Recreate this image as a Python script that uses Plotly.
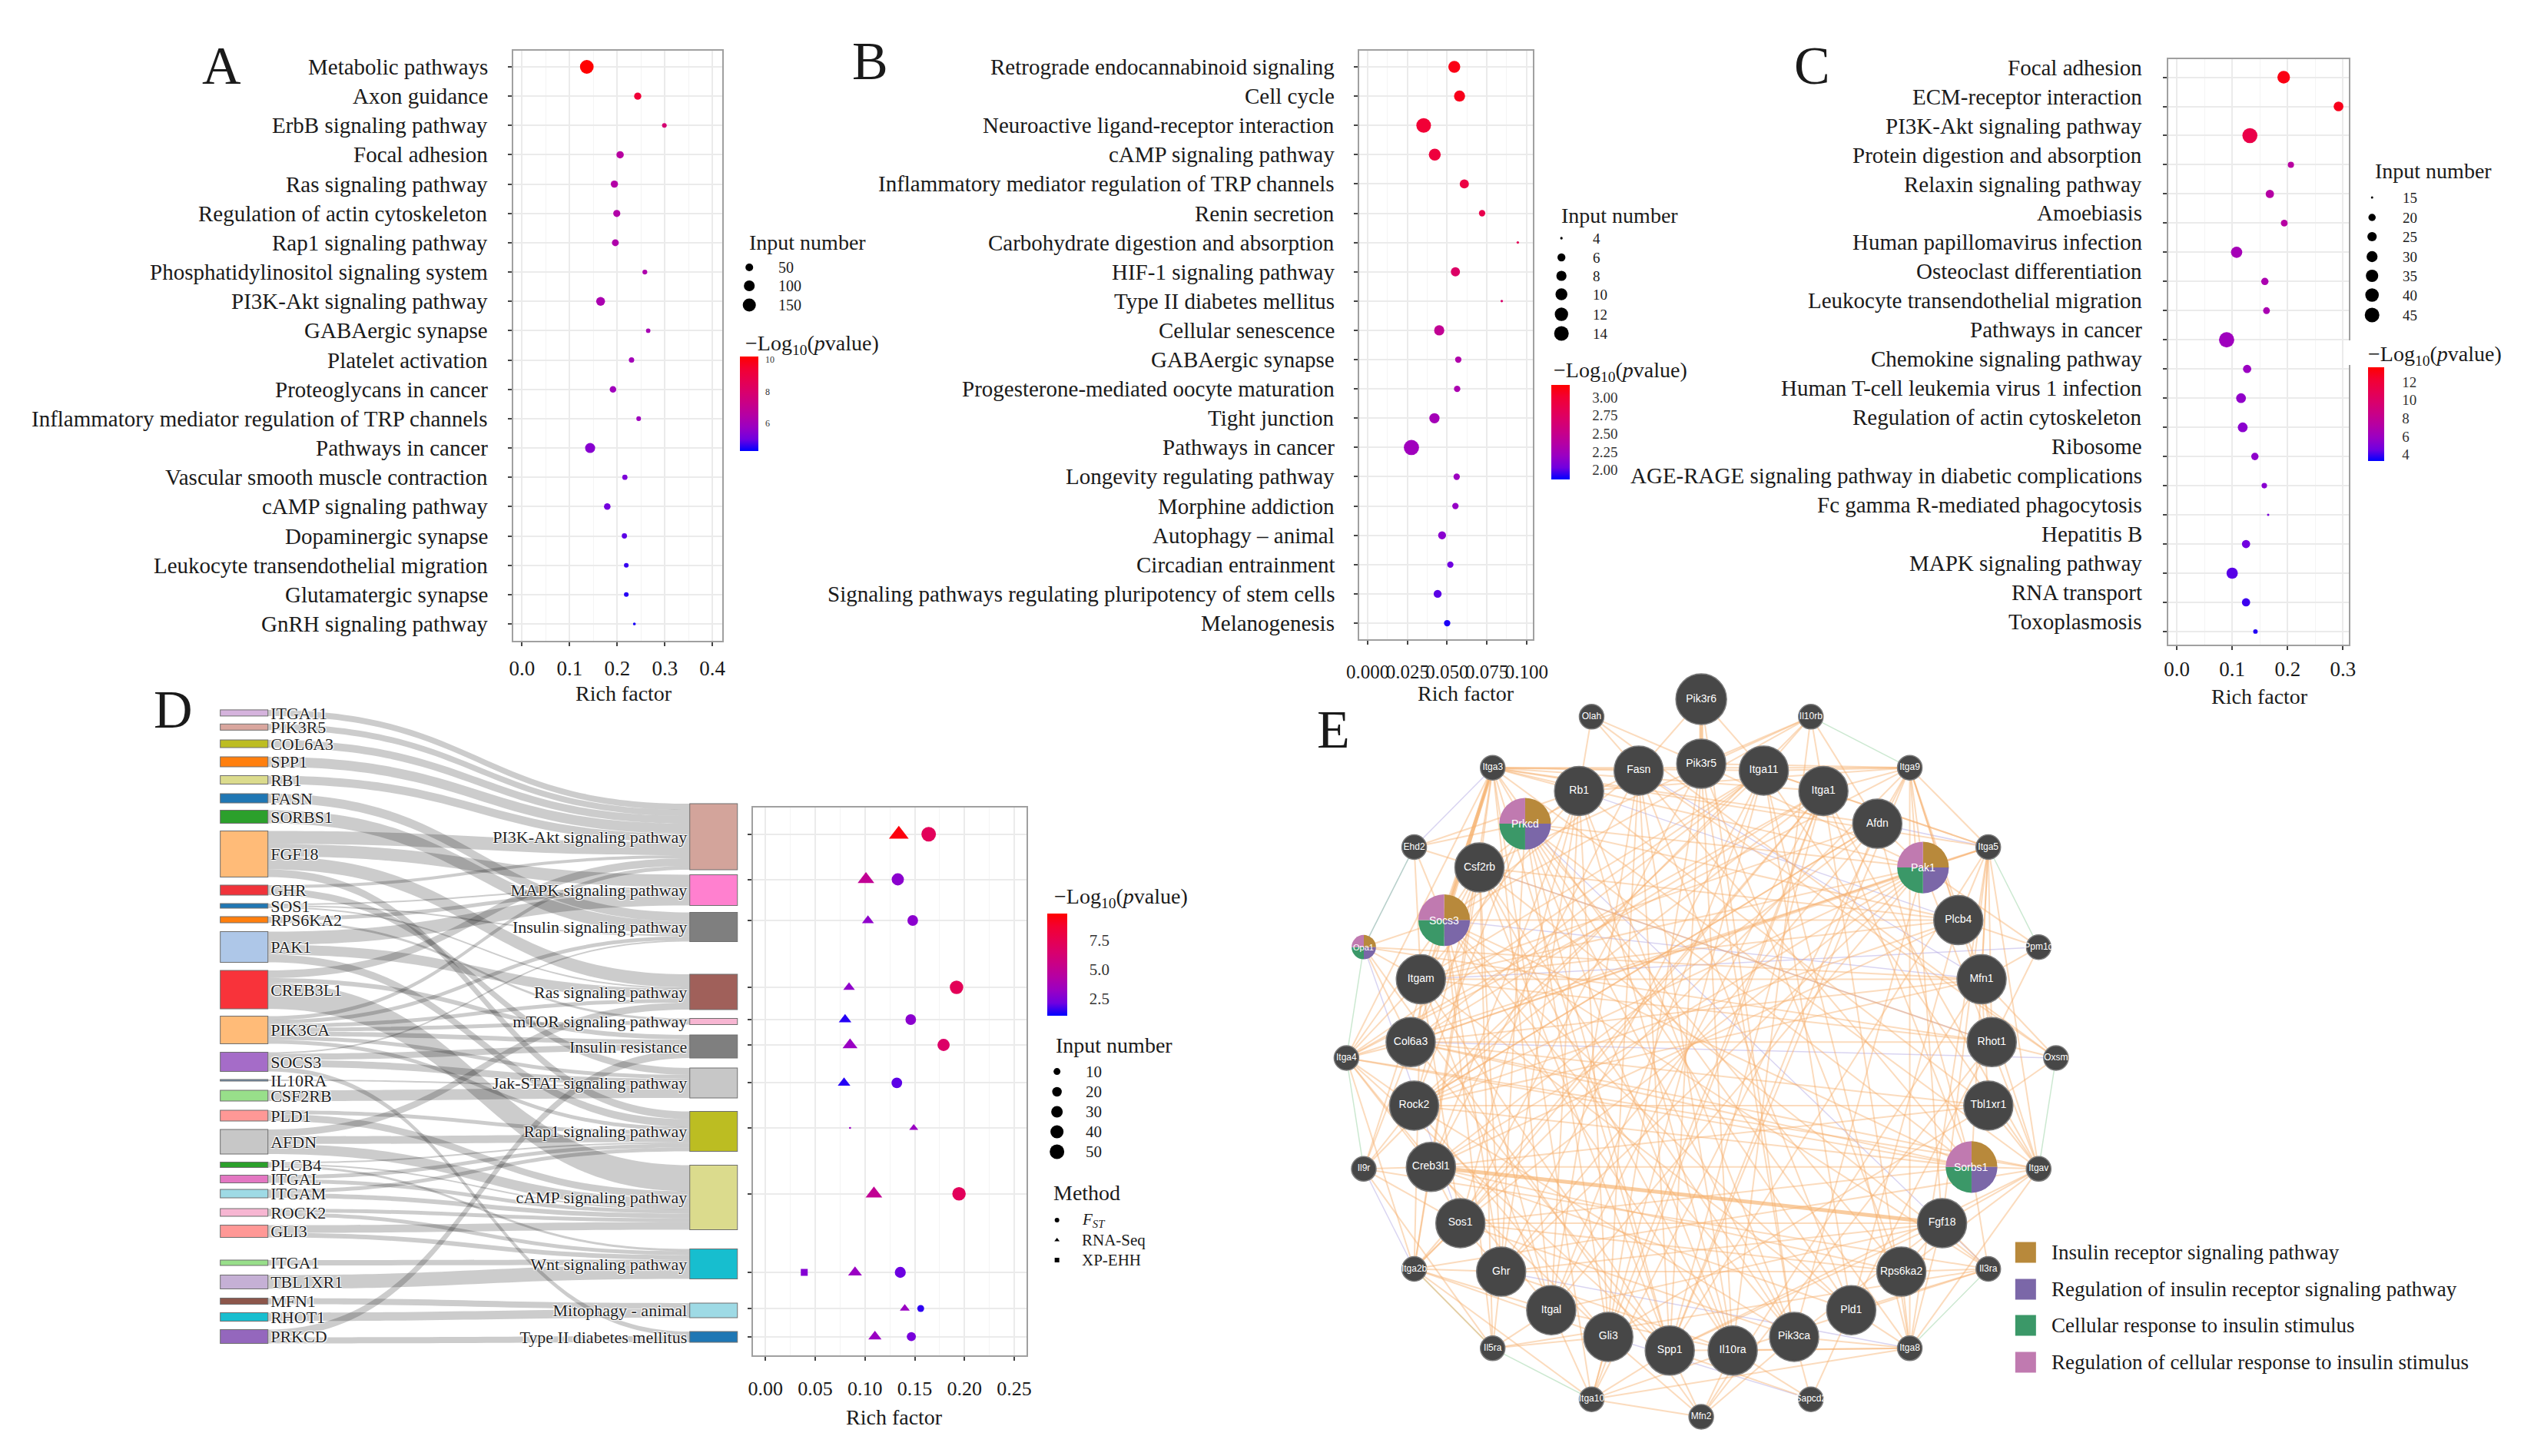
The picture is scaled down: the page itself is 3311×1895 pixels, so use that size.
import math
import plotly.graph_objects as go

# =====================================================================
# DATA
# =====================================================================
A_terms = ["Metabolic pathways", "Axon guidance", "ErbB signaling pathway", "Focal adhesion",
           "Ras signaling pathway", "Regulation of actin cytoskeleton", "Rap1 signaling pathway",
           "Phosphatidylinositol signaling system", "PI3K-Akt signaling pathway", "GABAergic synapse",
           "Platelet activation", "Proteoglycans in cancer",
           "Inflammatory mediator regulation of TRP channels", "Pathways in cancer",
           "Vascular smooth muscle contraction", "cAMP signaling pathway", "Dopaminergic synapse",
           "Leukocyte transendothelial migration", "Glutamatergic synapse", "GnRH signaling pathway"]
A_rich = [0.136, 0.243, 0.299, 0.206, 0.194, 0.199, 0.196, 0.258, 0.165, 0.265,
          0.230, 0.191, 0.245, 0.143, 0.216, 0.179, 0.215, 0.219, 0.219, 0.236]
A_count = [165, 44, 25, 46, 45, 43, 41, 26, 65, 24, 29, 38, 25, 85, 28, 38, 28, 25, 25, 21]
A_logp = [10.2, 9.3, 7.8, 6.6, 6.45, 6.4, 6.35, 6.3, 6.2, 6.1, 6.0, 5.9, 5.85, 5.4, 5.2,
          5.05, 4.85, 4.6, 4.5, 4.4]

B_terms = ["Retrograde endocannabinoid signaling", "Cell cycle",
           "Neuroactive ligand-receptor interaction", "cAMP signaling pathway",
           "Inflammatory mediator regulation of TRP channels", "Renin secretion",
           "Carbohydrate digestion and absorption", "HIF-1 signaling pathway",
           "Type II diabetes mellitus", "Cellular senescence", "GABAergic synapse",
           "Progesterone-mediated oocyte maturation", "Tight junction", "Pathways in cancer",
           "Longevity regulating pathway", "Morphine addiction", "Autophagy \u2013 animal",
           "Circadian entrainment", "Signaling pathways regulating pluripotency of stem cells",
           "Melanogenesis"]
B_rich = [0.0545, 0.0578, 0.0352, 0.0422, 0.0608, 0.072, 0.0945, 0.0552, 0.0844, 0.045,
          0.057, 0.0563, 0.042, 0.0275, 0.056, 0.0552, 0.0468, 0.052, 0.044, 0.050]
B_count = [10, 9, 14, 10, 7, 5, 4, 7, 4, 8, 5, 5, 8, 15, 5, 5, 6, 5, 6, 5]
B_logp = [3.10, 3.08, 2.98, 2.94, 2.91, 2.86, 2.81, 2.72, 2.68, 2.46, 2.33, 2.30, 2.26,
          2.23, 2.21, 2.18, 2.13, 2.03, 2.00, 1.91]

C_terms = ["Focal adhesion", "ECM-receptor interaction", "PI3K-Akt signaling pathway",
           "Protein digestion and absorption", "Relaxin signaling pathway", "Amoebiasis",
           "Human papillomavirus infection", "Osteoclast differentiation",
           "Leukocyte transendothelial migration", "Pathways in cancer",
           "Chemokine signaling pathway", "Human T-cell leukemia virus 1 infection",
           "Regulation of actin cytoskeleton", "Ribosome",
           "AGE-RAGE signaling pathway in diabetic complications",
           "Fc gamma R-mediated phagocytosis", "Hepatitis B", "MAPK signaling pathway",
           "RNA transport", "Toxoplasmosis"]
C_rich = [0.193, 0.292, 0.132, 0.206, 0.168, 0.194, 0.108, 0.159, 0.162, 0.090,
          0.127, 0.116, 0.119, 0.141, 0.158, 0.165, 0.125, 0.100, 0.125, 0.142]
C_count = [36, 26, 47, 18, 22, 19, 31, 20, 19, 48, 22, 26, 26, 20, 17, 15, 22, 31, 22, 16]
C_logp = [13.1, 12.9, 11.3, 7.4, 7.2, 7.3, 6.4, 6.7, 6.6, 6.1, 5.9, 5.6, 5.4, 5.5, 5.3,
          4.9, 4.6, 4.3, 4.0, 3.7]

# Panel D: gene -> pathway alluvial
D_pathways = ["PI3K-Akt signaling pathway", "MAPK signaling pathway", "Insulin signaling pathway",
              "Ras signaling pathway", "mTOR signaling pathway", "Insulin resistance",
              "Jak-STAT signaling pathway", "Rap1 signaling pathway", "cAMP signaling pathway",
              "Wnt signaling pathway", "Mitophagy - animal", "Type II diabetes mellitus"]
D_genes = ["ITGA11", "PIK3R5", "COL6A3", "SPP1", "RB1", "FASN", "SORBS1", "FGF18", "GHR", "SOS1",
           "RPS6KA2", "PAK1", "CREB3L1", "PIK3CA", "SOCS3", "IL10RA", "CSF2RB", "PLD1", "AFDN",
           "PLCB4", "ITGAL", "ITGAM", "ROCK2", "GLI3", "ITGA1", "TBL1XR1", "MFN1", "RHOT1", "PRKCD"]
D_link_gene = ["ITGA11", "PIK3R5", "COL6A3", "SPP1", "RB1", "FASN", "SORBS1",
               "FGF18", "FGF18", "FGF18", "FGF18", "GHR", "GHR", "SOS1", "SOS1", "SOS1",
               "RPS6KA2", "RPS6KA2", "PAK1", "PAK1", "PAK1", "CREB3L1", "CREB3L1", "CREB3L1",
               "PIK3CA", "PIK3CA", "PIK3CA", "PIK3CA", "PIK3CA", "PIK3CA", "PIK3CA",
               "SOCS3", "SOCS3", "SOCS3", "SOCS3", "IL10RA", "CSF2RB", "PLD1", "PLD1",
               "AFDN", "AFDN", "AFDN", "PLCB4", "PLCB4", "PLCB4", "ITGAL", "ITGAL", "ITGAM", "ITGAM",
               "ROCK2", "ROCK2", "GLI3", "GLI3", "ITGA1", "TBL1XR1", "MFN1", "RHOT1", "PRKCD", "PRKCD"]
D_link_path = ["PI3K-Akt signaling pathway", "PI3K-Akt signaling pathway", "PI3K-Akt signaling pathway",
               "PI3K-Akt signaling pathway", "PI3K-Akt signaling pathway", "Insulin signaling pathway",
               "Insulin signaling pathway",
               "PI3K-Akt signaling pathway", "MAPK signaling pathway", "Ras signaling pathway",
               "Rap1 signaling pathway", "PI3K-Akt signaling pathway", "Jak-STAT signaling pathway",
               "MAPK signaling pathway", "Insulin signaling pathway", "Ras signaling pathway",
               "MAPK signaling pathway", "mTOR signaling pathway",
               "MAPK signaling pathway", "Ras signaling pathway", "Rap1 signaling pathway",
               "PI3K-Akt signaling pathway", "Insulin resistance", "cAMP signaling pathway",
               "PI3K-Akt signaling pathway", "Insulin signaling pathway", "Ras signaling pathway",
               "mTOR signaling pathway", "Insulin resistance", "Jak-STAT signaling pathway",
               "Rap1 signaling pathway",
               "Insulin signaling pathway", "Insulin resistance", "Jak-STAT signaling pathway",
               "Type II diabetes mellitus", "Jak-STAT signaling pathway", "Jak-STAT signaling pathway",
               "Rap1 signaling pathway", "cAMP signaling pathway",
               "Ras signaling pathway", "Rap1 signaling pathway", "cAMP signaling pathway",
               "Rap1 signaling pathway", "cAMP signaling pathway", "Wnt signaling pathway",
               "Rap1 signaling pathway", "cAMP signaling pathway", "Rap1 signaling pathway",
               "cAMP signaling pathway", "cAMP signaling pathway", "Wnt signaling pathway",
               "cAMP signaling pathway", "Wnt signaling pathway", "Wnt signaling pathway",
               "Wnt signaling pathway", "Mitophagy - animal", "Mitophagy - animal",
               "Insulin resistance", "Type II diabetes mellitus"]
D_link_value = [8, 8, 10, 13, 11, 12, 17,
                17, 16, 17, 10, 4, 9, 2, 2, 2,
                5, 3, 17, 13, 10, 10, 6, 34,
                5, 5, 5, 5, 6, 5, 5,
                2, 8, 9, 6, 2, 14, 5, 9,
                9, 10, 13, 2, 2, 3, 5, 5, 5, 6,
                5, 5, 10, 6, 7, 18, 8, 11, 10, 8]

D_dot_path = ["PI3K-Akt signaling pathway", "PI3K-Akt signaling pathway",
              "MAPK signaling pathway", "MAPK signaling pathway",
              "Insulin signaling pathway", "Insulin signaling pathway",
              "Ras signaling pathway", "Ras signaling pathway",
              "mTOR signaling pathway", "mTOR signaling pathway",
              "Insulin resistance", "Insulin resistance",
              "Jak-STAT signaling pathway", "Jak-STAT signaling pathway",
              "Rap1 signaling pathway", "Rap1 signaling pathway",
              "cAMP signaling pathway", "cAMP signaling pathway",
              "Wnt signaling pathway", "Wnt signaling pathway", "Wnt signaling pathway",
              "Mitophagy - animal", "Mitophagy - animal",
              "Type II diabetes mellitus", "Type II diabetes mellitus"]
D_dot_method = ["RNA-Seq", "FST", "RNA-Seq", "FST", "RNA-Seq", "FST", "RNA-Seq", "FST",
                "RNA-Seq", "FST", "RNA-Seq", "FST", "RNA-Seq", "FST", "FST", "RNA-Seq",
                "RNA-Seq", "FST", "XP-EHH", "RNA-Seq", "FST", "RNA-Seq", "FST", "RNA-Seq", "FST"]
D_dot_rich = [0.134, 0.164, 0.101, 0.133, 0.103, 0.148, 0.084, 0.192, 0.080, 0.146,
              0.085, 0.179, 0.079, 0.132, 0.085, 0.149, 0.109, 0.1945, 0.039, 0.090, 0.1355,
              0.140, 0.156, 0.110, 0.1466]
D_dot_count = [48, 50, 33, 34, 16, 25, 15, 42, 18, 25, 26, 34, 18, 25, 3, 9, 33, 42, 10, 22,
               27, 11, 10, 20, 18]
D_dot_logp = [9.5, 7.2, 5.0, 2.8, 2.9, 2.8, 2.9, 7.3, 1.35, 2.8, 3.2, 6.7, 1.35, 1.9, 3.2, 3.2,
              5.0, 7.2, 2.6, 3.2, 2.05, 3.2, 1.45, 3.2, 2.3]
D_methods = ["FST", "RNA-Seq", "XP-EHH"]

# Panel E: network
E_inner = ["Pik3r5", "Itga11", "Itga1", "Afdn", "Pak1", "Plcb4", "Mfn1", "Rhot1", "Tbl1xr1",
           "Sorbs1", "Fgf18", "Rps6ka2", "Pld1", "Pik3ca", "Il10ra", "Spp1", "Gli3", "Itgal",
           "Ghr", "Sos1", "Creb3l1", "Rock2", "Col6a3", "Itgam", "Socs3", "Csf2rb", "Prkcd",
           "Rb1", "Fasn"]
E_outer = ["Pik3r6", "Il10rb", "Itga9", "Itga5", "Ppm1d", "Oxsm", "Itgav", "Il3ra", "Itga8",
           "Sapcd2", "Mfn2", "Itga10", "Il5ra", "Itga2b", "Il9r", "Itga4", "Opa1", "Ehd2",
           "Itga3", "Olah"]
E_pie_nodes = ["Prkcd", "Pak1", "Socs3", "Sorbs1", "Opa1"]
E_go_terms = ["Insulin receptor signaling pathway",
              "Regulation of insulin receptor signaling pathway",
              "Cellular response to insulin stimulus",
              "Regulation of cellular response to insulin stimulus"]
E_edges_main = """
Itga3-Itga1 Itga3-Itga11 Itga3-Itga5 Itga3-Itga9 Itga3-Itga4 Itga3-Itgav Itga3-Itga2b Itga3-Itga8
Itga3-Itga10 Itga3-Itgam Itga3-Itgal Itga3-Rb1 Itga3-Fasn Itga3-Prkcd Itga3-Csf2rb Itga3-Col6a3
Itga3-Spp1 Itga3-Afdn Itga3-Pak1 Itga3-Socs3
Itga9-Itga1 Itga9-Itga11 Itga9-Itga5 Itga9-Itga4 Itga9-Itgav Itga9-Itga8 Itga9-Itga10 Itga9-Itga2b
Itga9-Pak1 Itga9-Afdn Itga9-Plcb4 Itga9-Mfn1 Itga9-Fgf18 Itga9-Spp1 Itga9-Rb1 Itga9-Pik3r5
Itga5-Itga1 Itga5-Itga11 Itga5-Itgav Itga5-Itga4 Itga5-Itga8 Itga5-Pak1 Itga5-Plcb4 Itga5-Mfn1
Itga5-Rhot1 Itga5-Sorbs1 Itga5-Col6a3 Itga5-Spp1 Itga5-Fgf18
Itga4-Itga1 Itga4-Itgam Itga4-Itgal Itga4-Itgav Itga4-Itga2b Itga4-Col6a3 Itga4-Rock2 Itga4-Socs3
Itga4-Itga11 Itga4-Spp1 Itga4-Creb3l1 Itga4-Sorbs1
Itgav-Itga1 Itgav-Itga11 Itgav-Itga8 Itgav-Itga2b Itgav-Sorbs1 Itgav-Fgf18 Itgav-Tbl1xr1
Itgav-Rps6ka2 Itgav-Spp1 Itgav-Col6a3 Itgav-Pak1
Itga8-Itga1 Itga8-Itga11 Itga8-Itga10 Itga8-Pld1 Itga8-Rps6ka2 Itga8-Pik3ca Itga8-Fgf18
Itga8-Il10ra Itga8-Spp1
Itga10-Itga1 Itga10-Itga11 Itga10-Itga2b Itga10-Gli3 Itga10-Spp1 Itga10-Itgal Itga10-Il10ra
Itga10-Mfn2
Itga2b-Itga1 Itga2b-Itgam Itga2b-Itgal Itga2b-Ghr Itga2b-Sos1 Itga2b-Creb3l1 Itga2b-Gli3
Itga2b-Il5ra
Il3ra-Csf2rb Il3ra-Il5ra Il3ra-Il9r Il3ra-Il10ra Il3ra-Fgf18 Il3ra-Rps6ka2 Il3ra-Pld1
Il3ra-Sorbs1 Il3ra-Socs3
Il5ra-Csf2rb Il5ra-Il9r Il5ra-Itgal Il5ra-Ghr Il5ra-Gli3 Il5ra-Socs3
Il9r-Csf2rb Il9r-Creb3l1 Il9r-Sos1 Il9r-Rock2 Il9r-Socs3 Il9r-Il10rb
Il10rb-Il10ra Il10rb-Itga11 Il10rb-Itga1 Il10rb-Pik3r5 Il10rb-Afdn Il10rb-Socs3 Il10rb-Csf2rb
Pik3r6-Pik3ca Pik3r6-Fasn Pik3r6-Itga11
Olah-Fasn Olah-Rb1 Olah-Pik3r5 Olah-Oxsm
Ehd2-Csf2rb Ehd2-Socs3 Ehd2-Itgam Ehd2-Prkcd Ehd2-Rb1
Opa1-Mfn1 Opa1-Mfn2 Opa1-Rhot1 Opa1-Itgam Opa1-Socs3 Opa1-Col6a3
Ppm1d-Mfn1 Ppm1d-Plcb4 Ppm1d-Pak1 Ppm1d-Rhot1
Oxsm-Fasn Oxsm-Rhot1 Oxsm-Tbl1xr1 Oxsm-Mfn1
Sapcd2-Pik3ca Sapcd2-Pld1 Sapcd2-Il10ra Sapcd2-Spp1
Mfn2-Mfn1 Mfn2-Rhot1 Mfn2-Il10ra Mfn2-Spp1 Mfn2-Gli3 Mfn2-Pik3ca
Pik3r5-Pik3ca Pik3r5-Sos1 Pik3r5-Pak1 Pik3r5-Rps6ka2 Pik3ca-Sos1 Pik3ca-Pak1 Pik3ca-Fgf18
Pik3ca-Socs3 Pik3ca-Prkcd Pik3ca-Rock2 Sos1-Ghr Sos1-Fgf18 Sos1-Pak1 Ghr-Socs3 Ghr-Il10ra
Ghr-Csf2rb Socs3-Csf2rb Socs3-Il10ra Socs3-Sorbs1 Csf2rb-Il10ra Csf2rb-Itgam Prkcd-Pak1
Prkcd-Rock2 Prkcd-Plcb4 Prkcd-Pld1 Prkcd-Sorbs1 Prkcd-Rps6ka2 Pak1-Rock2 Pak1-Afdn Rock2-Afdn
Rock2-Plcb4 Afdn-Itgam Col6a3-Spp1 Col6a3-Itga1 Col6a3-Itga11 Spp1-Itga1 Spp1-Itgam Spp1-Fgf18
Rb1-Creb3l1 Rb1-Tbl1xr1 Rb1-Gli3 Fasn-Creb3l1 Fasn-Sorbs1 Fasn-Pld1 Mfn1-Rhot1 Mfn1-Tbl1xr1
Rhot1-Pld1 Tbl1xr1-Gli3 Tbl1xr1-Creb3l1 Gli3-Creb3l1 Gli3-Rock2 Plcb4-Pld1 Plcb4-Creb3l1
Fgf18-Rps6ka2 Rps6ka2-Creb3l1 Itgal-Itgam Itgal-Itga1 Itgam-Itga11 Itga1-Itga11 Itga11-Rock2
Itga1-Rock2 Il10ra-Itgal Sorbs1-Afdn Sorbs1-Itga1 Sorbs1-Col6a3 Creb3l1-Pld1 Creb3l1-Sos1
Pak1-Itgal Pak1-Itgam Afdn-Spp1 Rb1-Pik3ca Fasn-Itgal
Rb1-Sos1 Rb1-Ghr Rb1-Itgal Fasn-Gli3 Fasn-Spp1 Fasn-Il10ra Pik3r5-Il10ra Pik3r5-Spp1
Pik3r5-Gli3 Itga11-Ghr Itga11-Itgal Itga11-Pld1 Itga1-Sos1 Itga1-Gli3 Afdn-Ghr Afdn-Creb3l1
Afdn-Rock2 Pak1-Creb3l1 Pak1-Col6a3 Pak1-Ghr Plcb4-Itgam Plcb4-Socs3 Plcb4-Csf2rb Mfn1-Col6a3
Mfn1-Rock2 Mfn1-Itgam Rhot1-Col6a3 Rhot1-Csf2rb Rhot1-Itgam Tbl1xr1-Rock2 Tbl1xr1-Col6a3
Sorbs1-Creb3l1 Sorbs1-Rock2 Sorbs1-Sos1 Fgf18-Itgal Fgf18-Ghr Rps6ka2-Sos1
Rps6ka2-Ghr Pld1-Socs3 Pld1-Itgam Pik3ca-Csf2rb Il10ra-Prkcd Il10ra-Rb1 Spp1-Prkcd Spp1-Csf2rb
Gli3-Prkcd Itgal-Socs3 Ghr-Prkcd Sos1-Itgam Creb3l1-Csf2rb Rock2-Csf2rb Col6a3-Prkcd
Itgam-Rb1 Socs3-Fasn Csf2rb-Rb1 Prkcd-Fasn
"""
E_edges_strong = "Pik3r6-Pik3r5 Creb3l1-Fgf18 Itga3-Socs3"
E_edges_purple = """Rb1-Plcb4 Fasn-Mfn1 Socs3-Mfn1 Csf2rb-Rhot1 Col6a3-Oxsm Itgam-Ppm1d Prkcd-Il3ra
Il9r-Itga2b Gli3-Sapcd2 Ghr-Itga8 Sos1-Opa1 Afdn-Itga5 Ehd2-Opa1 Itga3-Ehd2"""
E_edges_green = """Il10rb-Itga9 Itga5-Ppm1d Itgav-Oxsm Il3ra-Itga8 Il5ra-Itga10 Itga4-Il9r
Itga2b-Il5ra Opa1-Ehd2 Itga4-Opa1"""

# legend keys / ticks
A_size_keys = [50, 100, 150]
B_size_keys = [4, 6, 8, 10, 12, 14]
C_size_keys = [15, 20, 25, 30, 35, 40, 45]
D_size_keys = [10, 20, 30, 40, 50]
A_cbar_ticks = [6, 8, 10]
B_cbar_ticks = [2.0, 2.25, 2.5, 2.75, 3.0]
C_cbar_ticks = [4, 6, 8, 10, 12]
D_cbar_ticks = [2.5, 5.0, 7.5]

# =====================================================================
# LAYOUT / STYLE  (positions in pixels of the 3311 x 1895 frame)
# =====================================================================
W, H, OFF = 3295, 1879, 8


def fx(X):
    return (X - OFF) / W


def fy(Y):
    return 1 - (Y - OFF) / H


SERIF = "Liberation Serif"
SANS = "Liberation Sans"
GRID = "#EBEBEB"
GRIDMINOR = "#F4F4F4"
BORDER = "#A0A0A0"
TXT = "#1a1a1a"
CAT_FS = 29

COLORSCALE = [[0, "#0000FF"], [0.125, "#7100E0"], [0.25, "#9A00C3"], [0.375, "#B400A5"],
              [0.5, "#C80088"], [0.625, "#D9006C"], [0.75, "#E7004F"], [0.875, "#F30031"],
              [1, "#FF0000"]]


def size_px(n, nmin, nmax, dmin, dmax):
    return dmin + (dmax - dmin) * math.sqrt(max(n - nmin, 0) / (nmax - nmin))


SIZE_A = (21, 165, 3.7, 17.8)
SIZE_B = (4, 15, 3.3, 19.8)
SIZE_C = (15, 48, 3.0, 19.8)
SIZE_D = (3, 52, 2.7, 19.3)
TRI_BOOST = 1.2

fig = go.Figure()
annotations = []


def ann(text, X, Y, size, xanchor="left", yanchor="middle", color=TXT, family=SERIF, **kw):
    annotations.append(dict(text=text, x=X, y=Y, xref="x5", yref="y5", xanchor=xanchor,
                            yanchor=yanchor, showarrow=False,
                            font=dict(family=family, size=size, color=color), **kw))


def xaxis_cfg(x0, x1, rng, dtick, minor, fmt, standoff, anchor, fs=27):
    return dict(domain=[fx(x0), fx(x1)], range=list(rng), tick0=0, dtick=dtick, tickformat=fmt,
                showgrid=True, gridcolor=GRID, gridwidth=1.5, tickangle=0,
                minor=dict(tick0=0, dtick=minor, showgrid=True, gridcolor=GRIDMINOR, gridwidth=1),
                showline=True, mirror=True, linecolor=BORDER, linewidth=2, ticks="outside",
                ticklen=5, tickwidth=1.5, tickcolor="#444",
                tickfont=dict(family=SERIF, size=fs, color=TXT), ticklabelstandoff=standoff,
                zeroline=False, anchor=anchor, fixedrange=True)


def yaxis_cfg(y0, y1, rng, tickvals, anchor):
    return dict(domain=[fy(y1), fy(y0)], range=list(rng), tickvals=tickvals,
                showticklabels=False, showgrid=True, gridcolor=GRID, gridwidth=1.5,
                showline=True, mirror=True, linecolor=BORDER, linewidth=2, ticks="outside",
                ticklen=5, tickwidth=1.5, tickcolor="#444", zeroline=False, anchor=anchor,
                fixedrange=True)


layout_axes = {}

# ---------- panels A, B, C ----------
PANEL_SPECS = [
    ("A", 1, A_terms, A_rich, A_count, A_logp, (658, 933, 66, 834), (-0.019, 0.42),
     (19.577, -0.55), 0.1, 0.05, ".1f", 6, 627, 0.0, SIZE_A, "coloraxis", 27),
    ("B", 2, B_terms, B_rich, B_count, B_logp, (1772, 2000, 66, 832), (-0.0053, 0.1038),
     (19.55, -0.55), 0.025, 0.0125, ".3f", 14, 1741, 0.0, SIZE_B, "coloraxis2", 25),
    ("C", 3, C_terms, C_rich, C_count, C_logp, (2837, 3074, 77, 839), (-0.015, 0.31),
     (19.45, -0.62), 0.1, 0.05, ".1f", 2, 2804, -0.34, SIZE_C, "coloraxis3", 27),
]

for (nm, k, terms, rich, count, logp, box, xr, yr, dt, mn, fmt, so, lx, ldy, sz,
     cax, tfs) in PANEL_SPECS:
    xa, ya = ("x", "y") if k == 1 else (f"x{k}", f"y{k}")
    rows = list(range(len(terms)))
    fig.add_trace(go.Scatter(
        x=rich, y=rows, mode="markers", xaxis=xa, yaxis=ya, showlegend=False,
        hoverinfo="skip",
        marker=dict(size=[size_px(n, *sz) for n in count], color=logp, coloraxis=cax,
                    line=dict(width=0), opacity=1)))
    layout_axes["xaxis" if k == 1 else f"xaxis{k}"] = xaxis_cfg(box[0], box[1], xr, dt, mn, fmt,
                                                                 so, ya, tfs)
    layout_axes["yaxis" if k == 1 else f"yaxis{k}"] = yaxis_cfg(box[2], box[3], yr, rows, xa)
    for i, t in enumerate(terms):
        annotations.append(dict(text=t, x=fx(lx), xref="paper", y=i + ldy, yref=ya,
                                xanchor="right", yanchor="middle", showarrow=False,
                                font=dict(family=SERIF, size=CAT_FS, color=TXT)))

# ---------- panel D : sankey ----------
GENE_COLORS = ["#D5B3DD", "#D9A69E", "#BDBD22", "#FF7F0E", "#DBDB8D", "#1F77B4", "#2CA02C",
               "#FFBB78", "#F0333A", "#1F77B4", "#FF7F0E", "#AEC7E8", "#F8333A", "#FFBB78",
               "#A56CC8", "#6F8FAF", "#98DF8A", "#FF9896", "#C7C7C7", "#2CA02C", "#E377C2",
               "#9EDAE5", "#F7B6D2", "#FF9896", "#98DF8A", "#C5B0D5", "#8C564B", "#17BECF",
               "#9467BD"]
PATH_COLORS = ["#D3A49B", "#FF80CF", "#7F7F7F", "#A0605A", "#F7B6D2", "#7F7F7F", "#C7C7C7",
               "#BCBD22", "#DBDB8D", "#17BECF", "#9EDAE5", "#1F77B4"]
GENE_CY = [927.9, 946.3, 968, 991.5, 1015, 1039, 1063, 1111.5, 1158.5, 1179, 1197, 1232.5,
           1288, 1340.5, 1382, 1406, 1426, 1452, 1486, 1516, 1534.5, 1553.5, 1578, 1602.5,
           1643.5, 1668.5, 1693.5, 1714, 1739.5]
PATH_CY = [1089, 1158.5, 1206.5, 1291, 1329.5, 1362, 1409.5, 1472.5, 1558.5, 1645, 1705.5, 1740]
D_ROW_Y = [1085.8, 1144.5, 1198, 1285, 1327, 1360, 1409.4, 1468, 1553.7, 1656, 1703, 1739.6]
SK_X0, SK_X1, SK_Y0, SK_Y1 = 240, 990, 915, 1755
GENE_X, PATH_X = 304, 922
sk_w, sk_h = SK_X1 - SK_X0, SK_Y1 - SK_Y0
labels = D_genes + D_pathways
idx = {n: i for i, n in enumerate(labels)}
left_total = sum(D_link_value)
pad = (sk_h - left_total) / (len(D_genes) - 1)
node_x = [(GENE_X - SK_X0) / sk_w] * len(D_genes) + [(PATH_X - SK_X0) / sk_w] * len(D_pathways)
node_y = [(c - SK_Y0) / sk_h for c in GENE_CY] + [(c - SK_Y0) / sk_h for c in PATH_CY]

fig.add_trace(go.Sankey(
    domain=dict(x=[fx(SK_X0), fx(SK_X1)], y=[fy(SK_Y1), fy(SK_Y0)]),
    arrangement="fixed",
    node=dict(label=labels, color=GENE_COLORS + PATH_COLORS, x=node_x, y=node_y,
              thickness=62, pad=pad, line=dict(color="#6e6e6e", width=1), hoverinfo="skip"),
    link=dict(source=[idx[g] for g in D_link_gene], target=[idx[p] for p in D_link_path],
              value=D_link_value, color="rgba(0,0,0,0.2)", hoverinfo="skip"),
    textfont=dict(family=SERIF, size=22, color="#222"),
))

# ---------- panel D : dot plot ----------
row_of = {p: D_ROW_Y[i] for i, p in enumerate(D_pathways)}
SYMBOL = {"FST": "circle", "RNA-Seq": "triangle-up", "XP-EHH": "square"}
fig.add_trace(go.Scatter(
    x=D_dot_rich, y=[row_of[p] for p in D_dot_path], mode="markers", xaxis="x4", yaxis="y4",
    showlegend=False, hoverinfo="skip",
    marker=dict(size=[size_px(n, *SIZE_D) * (TRI_BOOST if m == "RNA-Seq" else 1)
                      for n, m in zip(D_dot_count, D_dot_method)],
                color=D_dot_logp, coloraxis="coloraxis4",
                symbol=[SYMBOL[m] for m in D_dot_method], line=dict(width=0), opacity=1)))
layout_axes["xaxis4"] = xaxis_cfg(974, 1334, (-0.0124, 0.2624), 0.05, 0.025, ".2f", 14, "y4", 26)
layout_axes["yaxis4"] = yaxis_cfg(1051, 1764, (1764, 1051), D_ROW_Y, "x4")

# ---------- overlay axis (pixel units) ----------
layout_axes["xaxis5"] = dict(domain=[0, 1], range=[OFF, OFF + W], visible=False, anchor="y5",
                             fixedrange=True)
layout_axes["yaxis5"] = dict(domain=[0, 1], range=[OFF + H, OFF], visible=False, anchor="x5",
                             fixedrange=True)


# ---------- legends for A-D ----------
def size_legend(keys, scale, X, ys, lx, fs):
    fig.add_trace(go.Scatter(x=[X] * len(keys), y=ys, mode="markers", xaxis="x5", yaxis="y5",
                             showlegend=False, hoverinfo="skip",
                             marker=dict(color="black", size=[size_px(k, *scale) for k in keys],
                                         line=dict(width=0), opacity=1)))
    for k, yy in zip(keys, ys):
        ann(str(k), lx, yy, fs)


LOGP_TITLE = "\u2212Log<sub>10</sub>(<i>p</i>value)"

ann("Input number", 967, 315, 28)
size_legend(A_size_keys, SIZE_A, 969, [348, 372, 397], 1005, 20)
ann(LOGP_TITLE, 962, 448, 28)

ann("Input number", 2036, 280, 28)
size_legend(B_size_keys, SIZE_B, 2038, [310, 335, 359, 383, 409, 434], 2077, 19)
ann(LOGP_TITLE, 2026, 483, 28)

ann("Input number", 3107, 222, 28)
size_legend(C_size_keys, SIZE_C, 3105, [257, 283, 308, 334, 359, 384, 410], 3143, 19)
ann(LOGP_TITLE, 3098, 462, 28)

ann(LOGP_TITLE, 1368, 1168, 28)
ann("Input number", 1370, 1360, 28)
size_legend(D_size_keys, SIZE_D, 1374, [1394.6, 1421, 1447, 1473, 1499], 1410, 21)
ann("Method", 1367, 1552, 28)
method_y = [1588, 1614, 1640]
fig.add_trace(go.Scatter(x=[1374] * 3, y=method_y, mode="markers", xaxis="x5", yaxis="y5",
                         showlegend=False, hoverinfo="skip",
                         marker=dict(color="black", size=6, opacity=1,
                                     symbol=[SYMBOL[m] for m in D_methods])))
for m, yy in zip(D_methods, method_y):
    ann("<i>F<sub>ST</sub></i>" if m == "FST" else m, 1405, yy, 21)

# axis titles
ann("Rich factor", 804, 902, 28, xanchor="center")
ann("Rich factor", 1912, 902, 28, xanchor="center")
ann("Rich factor", 2957, 906, 28, xanchor="center")
ann("Rich factor", 1160, 1844, 28, xanchor="center")

# panel letters
for L, X, Y in [("A", 274, 85), ("B", 1128, 79), ("C", 2368, 85), ("D", 211, 923),
                ("E", 1738, 949)]:
    ann(L, X, Y, 70, xanchor="center")


def cbar(X, Y, length, thick, ticks, fmt, fs, gap):
    return dict(x=fx(X), xanchor="left", y=fy(Y), yanchor="top", len=length, lenmode="pixels",
                thickness=thick, thicknessmode="pixels", xpad=0, ypad=0, outlinewidth=0,
                tickvals=ticks, tickformat=fmt, ticks="outside", ticklen=gap,
                tickcolor="rgba(0,0,0,0)", tickfont=dict(family=SERIF, size=fs, color="#333"),
                title=dict(text=""))


coloraxes = dict(
    coloraxis=dict(colorscale=COLORSCALE, cmin=4.25, cmax=10.2,
                   colorbar=cbar(957, 464, 123, 24, A_cbar_ticks, "d", 12, 7)),
    coloraxis2=dict(colorscale=COLORSCALE, cmin=1.87, cmax=3.17,
                    colorbar=cbar(2025, 501, 123, 24, B_cbar_ticks, ".2f", 19, 26)),
    coloraxis3=dict(colorscale=COLORSCALE, cmin=3.3, cmax=13.6,
                    colorbar=cbar(3100, 478, 122, 21, C_cbar_ticks, "d", 19, 20)),
    coloraxis4=dict(colorscale=COLORSCALE, cmin=1.0, cmax=9.8,
                    colorbar=cbar(1361, 1189, 133, 26, D_cbar_ticks, ".1f", 21, 25)),
)

# ---------- panel E : network ----------
E_CX, E_CY, R_IN, R_OUT = 2222, 1377, 383, 467


def ring(names, r):
    out = {}
    n = len(names)
    for i, nm in enumerate(names):
        a = 2 * math.pi * i / n
        out[nm] = (E_CX + r * math.sin(a), E_CY - r * math.cos(a))
    return out


pos = ring(E_inner, R_IN)
pos.update(ring(E_outer, R_OUT))


def edge_trace(s, color, width):
    xs, ys = [], []
    for e in s.split():
        a, b = e.split("-")
        xs += [pos[a][0], pos[b][0], None]
        ys += [pos[a][1], pos[b][1], None]
    fig.add_trace(go.Scatter(x=xs, y=ys, mode="lines", xaxis="x5", yaxis="y5",
                             showlegend=False, hoverinfo="skip",
                             line=dict(color=color, width=width)))


edge_trace(E_edges_purple, "rgba(170,160,225,0.45)", 1.5)
edge_trace(E_edges_green, "rgba(140,205,150,0.45)", 1.5)
edge_trace(E_edges_main, "rgba(246,176,108,0.45)", 2)
edge_trace(E_edges_strong, "rgba(246,176,108,0.65)", 5)

BIG, SMALL, PIE_BIG = 64, 32, 68
plain = [n for n in E_inner + E_outer if n not in E_pie_nodes]
fig.add_trace(go.Scatter(
    x=[pos[n][0] for n in plain], y=[pos[n][1] for n in plain], mode="markers+text",
    xaxis="x5", yaxis="y5", showlegend=False, hoverinfo="skip", text=plain,
    textposition="middle center",
    textfont=dict(family=SANS, color="white",
                  size=[14 if (n in E_inner or n == "Pik3r6") else 12 for n in plain]),
    marker=dict(color="#474747", opacity=1,
                size=[BIG + (2 if n == "Pik3r6" else 0) if (n in E_inner or n == "Pik3r6")
                      else SMALL for n in plain],
                line=dict(color="#7a7a7a", width=1.5))))

PIE_COLORS = ["#B8893B", "#7B67A8", "#3B9868", "#C07AB0"]
for n in E_pie_nodes:
    cx, cy = pos[n]
    r = (PIE_BIG if n in E_inner else SMALL) / 2
    fig.add_trace(go.Pie(values=[1, 1, 1, 1], labels=E_go_terms, sort=False,
                         direction="clockwise", rotation=0, textinfo="none", hoverinfo="skip",
                         showlegend=False, marker=dict(colors=PIE_COLORS, line=dict(width=0)),
                         domain=dict(x=[fx(cx - r), fx(cx + r)], y=[fy(cy + r), fy(cy - r)])))
    ann(n, cx, cy, 14 if n in E_inner else 11, xanchor="center", color="white", family=SANS)

# E legend
leg_y = [1630, 1678, 1725, 1773]
fig.add_trace(go.Scatter(x=[2649] * 4, y=leg_y, mode="markers", xaxis="x5", yaxis="y5",
                         showlegend=False, hoverinfo="skip",
                         marker=dict(symbol="square", size=27, color=PIE_COLORS, opacity=1,
                                     line=dict(width=0))))
for t, yy in zip(E_go_terms, leg_y):
    ann(t, 2681, yy, 27)

shapes = [dict(type="rect", xref="x5", yref="y5", x0=3068, x1=3080, y0=443, y1=475,
               fillcolor="white", line=dict(width=0), layer="above")]

fig.update_layout(
    width=W, height=H, margin=dict(l=0, r=0, t=0, b=0, pad=0),
    paper_bgcolor="white", plot_bgcolor="rgba(0,0,0,0)", showlegend=False,
    annotations=annotations, shapes=shapes, font=dict(family=SERIF, color=TXT),
    **layout_axes, **coloraxes)

fig.write_html("out.html")
